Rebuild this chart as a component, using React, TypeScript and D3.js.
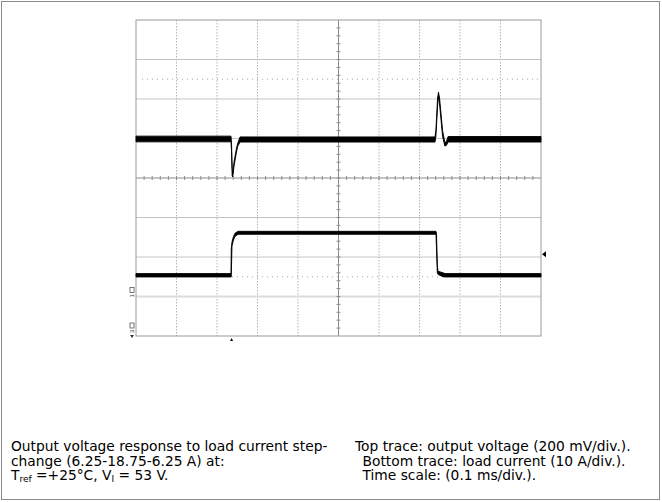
import React, { useEffect, useRef } from 'react';
import * as d3 from 'd3';

// time base: 0.1 ms/div, 10 divisions
const timeDomain: [number, number] = [0, 1.0];

// top trace: output voltage deviation (mV), envelope [time ms, upper, lower]
const voltageTrace: [number, number, number][] = [
  [0, 12, -17],
  [0.2346, 12, -17],
  [0.2358, -20, -60],
  [0.2375, -150, -190],
  [0.239, -178, -195],
  [0.242, -120, -140],
  [0.248, -50, -70],
  [0.2511, -25, -40],
  [0.2568, 8, -18],
  [0.7383, 8, -18],
  [0.7405, 40, 10],
  [0.7445, 200, 160],
  [0.7468, 235, 215],
  [0.7495, 205, 175],
  [0.757, 40, 10],
  [0.7625, -20, -38],
  [0.7665, -15, -35],
  [0.7705, 10, -18],
  [1.0, 10, -18]
];

// bottom trace: load current (A), envelope [time ms, upper, lower]
const currentTrace: [number, number, number][] = [
  [0, 5.8, 4.95],
  [0.2346, 5.8, 4.95],
  [0.2352, 12.0, 4.95],
  [0.237, 13.8, 12.8],
  [0.2407, 15.2, 14.3],
  [0.2444, 16.0, 15.2],
  [0.2519, 16.5, 15.75],
  [0.7407, 16.5, 15.75],
  [0.742, 16.0, 12.0],
  [0.744, 8.0, 6.0],
  [0.7457, 6.4, 5.6],
  [0.758, 6.0, 5.0],
  [0.763, 5.8, 4.95],
  [1.0, 5.8, 4.95]
];

// channel settings
const voltsPerDiv = 200; // mV
const ampsPerDiv = 10;
const voltageOffsetDiv = 1;
const currentOffsetDiv = -3;
const cursorLevelsDiv = [2.5, -2.5];
const triggerTime = 0.236;
const triggerLevel = 10.7; // A

const captionLeft = [
  'Output voltage response to load current step-',
  'change (6.25-18.75-6.25 A) at:'
];
const captionRight = [
  'Top trace: output voltage (200 mV/div.).',
  'Bottom trace: load current (10 A/div.).',
  'Time scale: (0.1 ms/div.).'
];

const App: React.FC = () => {
  const svgRef = useRef<SVGSVGElement>(null);

  useEffect(() => {
    if (!svgRef.current) return;
    const svg = d3.select(svgRef.current);
    svg.selectAll('*').remove();

    const width = 662;
    const height = 502;
    const left = 136;
    const right = 541;
    const top = 20;
    const bottom = 336;

    // outer frame
    svg.append('rect')
      .attr('x', 1.5).attr('y', 1.5)
      .attr('width', width - 4).attr('height', height - 4)
      .attr('fill', 'white')
      .attr('stroke', '#8a8a8a');

    const x = d3.scaleLinear().domain(timeDomain).range([left, right]);
    const yDiv = d3.scaleLinear().domain([-4, 4]).range([bottom, top]);
    const yV = (mv: number) => yDiv(voltageOffsetDiv + mv / voltsPerDiv);
    const yA = (a: number) => yDiv(currentOffsetDiv + a / ampsPerDiv);

    const g = svg.append('g');

    // horizontal grid (solid)
    g.selectAll('line.hgrid')
      .data(d3.range(-3, 4).filter(d => d !== 0))
      .enter()
      .append('line')
      .attr('x1', left).attr('x2', right)
      .attr('y1', d => yDiv(d)).attr('y2', d => yDiv(d))
      .attr('stroke', '#c4c4c4')
      .attr('stroke-width', 1);

    // vertical grid (dotted)
    g.selectAll('line.vgrid')
      .data(d3.range(1, 10).filter(i => i !== 5).map(i => i / 10))
      .enter()
      .append('line')
      .attr('x1', d => x(d)).attr('x2', d => x(d))
      .attr('y1', top).attr('y2', bottom)
      .attr('stroke', '#b4b4b4')
      .attr('stroke-dasharray', '1.5,1.5');

    // cursor lines (sparse dots)
    g.selectAll('line.cursor')
      .data(cursorLevelsDiv)
      .enter()
      .append('line')
      .attr('x1', left + 6).attr('x2', right)
      .attr('y1', d => yDiv(d)).attr('y2', d => yDiv(d))
      .attr('stroke', '#a8a8a8')
      .attr('stroke-dasharray', '1,4');

    // channel ground reference line
    g.append('line')
      .attr('x1', left).attr('x2', right)
      .attr('y1', yA(0)).attr('y2', yA(0))
      .attr('stroke', '#dcdcdc')
      .attr('stroke-width', 2);

    // centre crosshair with minor ticks
    const cx = x(0.5);
    const cy = yDiv(0);
    g.append('line')
      .attr('x1', left).attr('x2', right)
      .attr('y1', cy).attr('y2', cy)
      .attr('stroke', '#8c8c8c');
    g.append('line')
      .attr('x1', cx).attr('x2', cx)
      .attr('y1', top).attr('y2', bottom)
      .attr('stroke', '#8c8c8c');
    g.selectAll('line.xtick')
      .data(d3.range(1, 50).map(i => i / 50))
      .enter()
      .append('line')
      .attr('x1', d => x(d)).attr('x2', d => x(d))
      .attr('y1', cy - 2).attr('y2', cy + 2)
      .attr('stroke', '#8c8c8c');
    g.selectAll('line.ytick')
      .data(d3.range(-19, 20).map(i => i / 5))
      .enter()
      .append('line')
      .attr('x1', cx - 2).attr('x2', cx + 2)
      .attr('y1', d => yDiv(d)).attr('y2', d => yDiv(d))
      .attr('stroke', '#8c8c8c');

    // plot frame
    g.append('rect')
      .attr('x', left).attr('y', top)
      .attr('width', right - left).attr('height', bottom - top)
      .attr('fill', 'none')
      .attr('stroke', '#9a9a9a');

    // traces
    const vArea = d3.area<[number, number, number]>()
      .x(d => x(d[0]))
      .y0(d => yV(d[2]))
      .y1(d => yV(d[1]));
    g.append('path')
      .attr('d', vArea(voltageTrace) || '')
      .attr('fill', '#000')
      .attr('stroke', '#000')
      .attr('stroke-width', 0.9);

    const aArea = d3.area<[number, number, number]>()
      .x(d => x(d[0]))
      .y0(d => yA(d[2]))
      .y1(d => yA(d[1]));
    g.append('path')
      .attr('d', aArea(currentTrace) || '')
      .attr('fill', '#000')
      .attr('stroke', '#000')
      .attr('stroke-width', 0.9);

    // trigger position marker (bottom)
    const tx = x(triggerTime);
    g.append('path')
      .attr('d', `M${tx},${bottom + 2} L${tx - 1.5},${bottom + 5} L${tx + 1.5},${bottom + 5} Z`)
      .attr('fill', '#000');

    // trigger level marker (right)
    const ty = yA(triggerLevel);
    g.append('path')
      .attr('d', `M${right + 1},${ty} L${right + 5},${ty - 3} L${right + 5},${ty + 3} Z`)
      .attr('fill', '#000');

    // channel markers on the left
    const markers = [
      { y: yA(0), label: '1', arrow: false },
      { y: bottom - 4, label: '3', arrow: true }
    ];
    markers.forEach(m => {
      const mg = g.append('g').attr('transform', `translate(${left - 4},${m.y})`);
      mg.append('rect')
        .attr('x', -2).attr('y', -9)
        .attr('width', 4).attr('height', 5)
        .attr('fill', 'none')
        .attr('stroke', '#555')
        .attr('stroke-width', 0.8);
      mg.append('text')
        .attr('transform', 'rotate(-90)')
        .attr('x', -1).attr('y', 2)
        .attr('font-family', 'Liberation Sans, Arial, sans-serif')
        .attr('font-size', 6)
        .attr('fill', '#333')
        .text(m.label);
      if (m.arrow) {
        mg.append('path')
          .attr('d', 'M-2,3 L2,3 L0,6 Z')
          .attr('fill', '#333');
      }
    });

    // captions
    const font = 'DejaVu Sans, Verdana, sans-serif';
    const fs = 13.8;
    const lineY = [451, 465.5, 480];
    captionLeft.forEach((t, i) => {
      svg.append('text')
        .attr('x', 11).attr('y', lineY[i])
        .attr('font-family', font).attr('font-size', fs)
        .attr('fill', '#000')
        .text(t);
    });
    const cond = svg.append('text')
      .attr('x', 11).attr('y', lineY[2])
      .attr('font-family', font).attr('font-size', fs)
      .attr('fill', '#000');
    cond.append('tspan').text('T');
    cond.append('tspan').attr('font-size', 9).attr('dy', 2).text('ref');
    cond.append('tspan').attr('dy', -2).text(' =+25°C, V');
    cond.append('tspan').attr('font-size', 9).attr('dy', 2).text('I');
    cond.append('tspan').attr('dy', -2).text(' = 53 V.');

    captionRight.forEach((t, i) => {
      svg.append('text')
        .attr('x', i === 0 ? 355 : 362.5).attr('y', lineY[i])
        .attr('font-family', font).attr('font-size', fs)
        .attr('fill', '#000')
        .text(t);
    });
  }, []);

  return (
    <svg
      ref={svgRef}
      width={662}
      height={502}
      style={{ position: 'absolute', left: 0, top: 0, background: 'white' }}
    />
  );
};

export default App;
